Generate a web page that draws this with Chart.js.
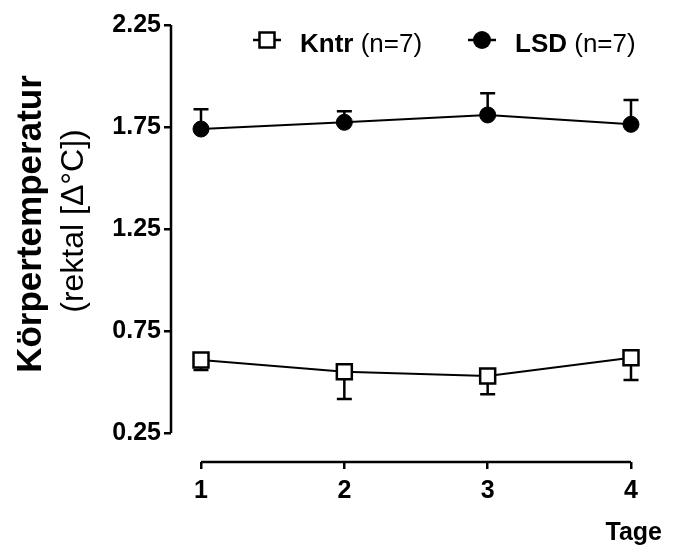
<!DOCTYPE html>
<html>
<head>
<meta charset="utf-8">
<title>Körpertemperatur</title>
<script src="https://cdn.jsdelivr.net/npm/chart.js@4"></script>
<style>
  html, body { margin: 0; padding: 0; background: #fff; overflow: hidden; }
  #wrap { position: relative; width: 673px; height: 549px; }
</style>
</head>
<body>
<div id="wrap"><canvas id="tempChart"></canvas></div>
<script>
// Data
const days = [1, 2, 3, 4];
const kntrMean = [0.608, 0.550, 0.529, 0.619];
const kntrSem = [0.049, 0.133, 0.089, 0.109];
const lsdMean = [1.740, 1.773, 1.809, 1.763];
const lsdSem = [0.097, 0.054, 0.106, 0.119];
const yTicks = [0.25, 0.75, 1.25, 1.75, 2.25];
const xTicks = [1, 2, 3, 4];

const FONT = "'Liberation Sans', Arial, sans-serif";

// Error bars: Kntr downwards, LSD upwards (only one side drawn, like the original)
const errorBarPlugin = {
  id: 'errorBars',
  beforeDatasetsDraw(chart) {
    const ctx = chart.ctx;
    const x = chart.scales.x;
    const y = chart.scales.y;
    const bars = [
      { mean: kntrMean, sem: kntrSem, dir: -1 },
      { mean: lsdMean, sem: lsdSem, dir: 1 }
    ];
    ctx.save();
    ctx.strokeStyle = '#000';
    ctx.lineWidth = 2.5;
    bars.forEach(b => {
      days.forEach((d, i) => {
        const px = x.getPixelForValue(d);
        const py0 = y.getPixelForValue(b.mean[i]);
        const py1 = y.getPixelForValue(b.mean[i] + b.dir * b.sem[i]);
        ctx.beginPath();
        ctx.moveTo(px, py0);
        ctx.lineTo(px, py1);
        ctx.moveTo(px - 7.5, py1);
        ctx.lineTo(px + 7.5, py1);
        ctx.stroke();
      });
    });
    ctx.restore();
  }
};

// Axis lines, axis titles and legend
const decorPlugin = {
  id: 'decor',
  afterDraw(chart) {
    const ctx = chart.ctx;
    const x = chart.scales.x;
    const y = chart.scales.y;
    const area = chart.chartArea;
    ctx.save();
    ctx.strokeStyle = '#000';
    ctx.lineWidth = 2.5;

    // offset axis lines
    ctx.beginPath();
    ctx.moveTo(area.left, y.getPixelForValue(yTicks[0]));
    ctx.lineTo(area.left, y.getPixelForValue(yTicks[yTicks.length - 1]));
    ctx.moveTo(x.getPixelForValue(xTicks[0]), area.bottom);
    ctx.lineTo(x.getPixelForValue(xTicks[xTicks.length - 1]), area.bottom);
    ctx.stroke();

    // y title, two lines
    ctx.fillStyle = '#000';
    ctx.textAlign = 'center';
    ctx.textBaseline = 'alphabetic';
    ctx.save();
    ctx.translate(41, 224);
    ctx.rotate(-Math.PI / 2);
    ctx.font = 'bold 35px ' + FONT;
    ctx.fillText('Körpertemperatur', 0, 0);
    ctx.restore();
    ctx.save();
    ctx.translate(83, 221);
    ctx.rotate(-Math.PI / 2);
    ctx.font = '32px ' + FONT;
    ctx.fillText('(rektal [\u0394°C])', 0, 0);
    ctx.restore();

    // x title
    ctx.textAlign = 'right';
    ctx.font = 'bold 25px ' + FONT;
    ctx.fillText('Tage', 662, 540);

    // legend
    drawLegendItem(ctx, 253, 40, 'rect', 'Kntr', ' (n=7)', 300);
    drawLegendItem(ctx, 468, 40, 'circle', 'LSD', ' (n=7)', 515);
    ctx.restore();
  }
};

function drawLegendItem(ctx, lx, ly, style, bold, normal, tx) {
  ctx.save();
  ctx.strokeStyle = '#000';
  ctx.lineWidth = 2.5;
  ctx.beginPath();
  ctx.moveTo(lx, ly);
  ctx.lineTo(lx + 28, ly);
  ctx.stroke();
  const cx = lx + 14;
  if (style === 'rect') {
    ctx.fillStyle = '#fff';
    ctx.fillRect(cx - 7.5, ly - 7.5, 15, 15);
    ctx.strokeRect(cx - 7.5, ly - 7.5, 15, 15);
  } else {
    ctx.fillStyle = '#000';
    ctx.beginPath();
    ctx.arc(cx, ly, 9, 0, Math.PI * 2);
    ctx.fill();
  }
  ctx.fillStyle = '#000';
  ctx.textAlign = 'left';
  ctx.textBaseline = 'alphabetic';
  ctx.font = 'bold 26px ' + FONT;
  ctx.fillText(bold, tx, 52);
  const w = ctx.measureText(bold).width;
  ctx.font = '26px ' + FONT;
  ctx.fillText(normal, tx + w, 52);
  ctx.restore();
}

function toPoints(means) {
  return days.map((d, i) => ({ x: d, y: means[i] }));
}

new Chart(document.getElementById('tempChart'), {
  type: 'line',
  data: {
    datasets: [{
      label: 'Kntr (n=7)',
      data: toPoints(kntrMean),
      borderColor: '#000',
      borderWidth: 2,
      pointStyle: 'rect',
      pointRadius: 10.6,
      pointBackgroundColor: '#fff',
      pointBorderColor: '#000',
      pointBorderWidth: 2.5,
      tension: 0,
      clip: false
    }, {
      label: 'LSD (n=7)',
      data: toPoints(lsdMean),
      borderColor: '#000',
      borderWidth: 2,
      pointStyle: 'circle',
      pointRadius: 8,
      pointBackgroundColor: '#000',
      pointBorderColor: '#000',
      pointBorderWidth: 1,
      tension: 0,
      clip: false
    }]
  },
  options: {
    responsive: true,
    maintainAspectRatio: false,
    animation: false,
    events: [],
    layout: { padding: { top: 25, right: 42, left: 0, bottom: 0 } },
    plugins: {
      legend: { display: false },
      tooltip: { enabled: false }
    },
    scales: {
      x: {
        type: 'linear',
        min: 0.7907,
        max: 4,
        afterBuildTicks: scale => { scale.ticks = xTicks.map(v => ({ value: v })); },
        afterFit: scale => { scale.height = 87; },
        border: { display: false },
        grid: { drawOnChartArea: false, drawTicks: true, tickLength: 7, color: '#000', lineWidth: 2.5 },
        ticks: {
          color: '#000',
          padding: 7,
          maxRotation: 0,
          font: { family: FONT, size: 25, weight: 'bold' },
          callback: v => String(v)
        }
      },
      y: {
        min: 0.1078,
        max: 2.25,
        afterBuildTicks: scale => { scale.ticks = yTicks.map(v => ({ value: v })); },
        afterFit: scale => { scale.width = 171; },
        border: { display: false },
        grid: { drawOnChartArea: false, drawTicks: true, tickLength: 7, color: '#000', lineWidth: 2.5 },
        ticks: {
          color: '#000',
          padding: 3,
          font: { family: FONT, size: 25, weight: 'bold' },
          callback: v => Number(v).toFixed(2)
        }
      }
    }
  },
  plugins: [errorBarPlugin, decorPlugin]
});
</script>
</body>
</html>
